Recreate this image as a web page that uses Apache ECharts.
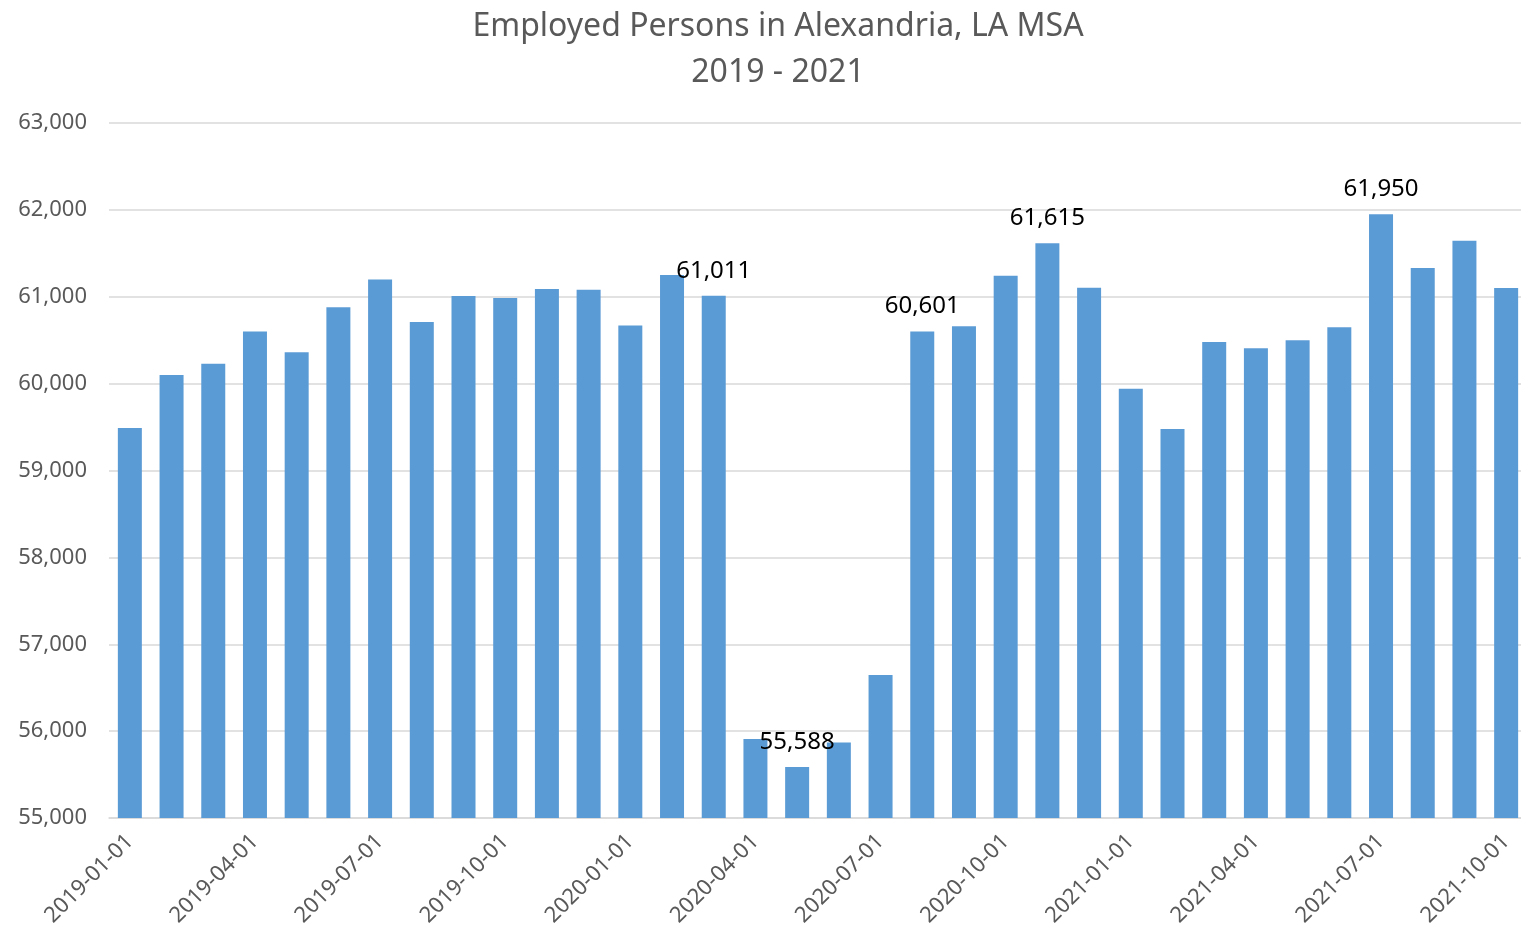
<!DOCTYPE html>
<html>
<head>
<meta charset="utf-8">
<script src="https://cdn.jsdelivr.net/npm/echarts@6/dist/echarts.min.js"></script>
<style>
  html, body { margin: 0; padding: 0; background: #fff; }
  #chart { width: 1521px; height: 929px; }
</style>
</head>
<body>
<div id="chart"></div>
<script>
const months = [
  '2019-01-01', '2019-02-01', '2019-03-01', '2019-04-01', '2019-05-01', '2019-06-01',
  '2019-07-01', '2019-08-01', '2019-09-01', '2019-10-01', '2019-11-01', '2019-12-01',
  '2020-01-01', '2020-02-01', '2020-03-01', '2020-04-01', '2020-05-01', '2020-06-01',
  '2020-07-01', '2020-08-01', '2020-09-01', '2020-10-01', '2020-11-01', '2020-12-01',
  '2021-01-01', '2021-02-01', '2021-03-01', '2021-04-01', '2021-05-01', '2021-06-01',
  '2021-07-01', '2021-08-01', '2021-09-01', '2021-10-01'
];
const employed = [
  59490, 60100, 60230, 60600, 60360, 60880,
  61200, 60710, 61010, 60985, 61090, 61080,
  60670, 61250, 61011, 55910, 55588, 55870,
  56645, 60601, 60661, 61242, 61615, 61104,
  59942, 59477, 60480, 60407, 60499, 60649,
  61950, 61331, 61646, 61100
];
// months that carry a value label
const labeled = ['2020-03-01', '2020-05-01', '2020-08-01', '2020-11-01', '2021-07-01'];

const fmt = v => Number(v).toLocaleString('en-US');
const font = '"Noto Sans", sans-serif';

const chart = echarts.init(document.getElementById('chart'));
chart.setOption({
  animation: false,
  title: {
    text: 'Employed Persons in Alexandria, LA MSA\n2019 - 2021',
    left: 773,
    top: -1,
    textAlign: 'center',
    textStyle: {
      fontFamily: font,
      fontSize: 32,
      fontWeight: 'normal',
      color: '#595959',
      lineHeight: 46
    }
  },
  grid: { left: 109, top: 123, bottom: 111, width: 1418, outerBoundsMode: 'none', containLabel: false },
  xAxis: {
    type: 'category',
    data: months,
    axisLine: { lineStyle: { color: '#d9d9d9', width: 1.5 } },
    axisTick: { interval: 2, length: 7, lineStyle: { color: '#d9d9d9', width: 1.5 } },
    axisLabel: {
      interval: 2,
      rotate: 45,
      margin: 20,
      fontFamily: font,
      fontSize: 22,
      color: '#595959'
    }
  },
  yAxis: {
    type: 'value',
    min: 55000,
    max: 63000,
    interval: 1000,
    axisLine: { show: false },
    axisTick: { show: false },
    splitLine: { lineStyle: { color: '#d9d9d9', width: 1.5 } },
    axisLabel: {
      margin: 22,
      fontFamily: font,
      fontSize: 22,
      color: '#595959',
      formatter: fmt
    }
  },
  series: [{
    type: 'bar',
    barWidth: 24,
    itemStyle: { color: '#5b9bd5' },
    data: employed.map((v, i) => ({
      value: v,
      label: {
        show: labeled.includes(months[i]),
        position: 'top',
        distance: 13,
        fontFamily: font,
        fontSize: 24,
        color: '#000',
        formatter: p => fmt(p.value)
      }
    }))
  }]
});
</script>
</body>
</html>
